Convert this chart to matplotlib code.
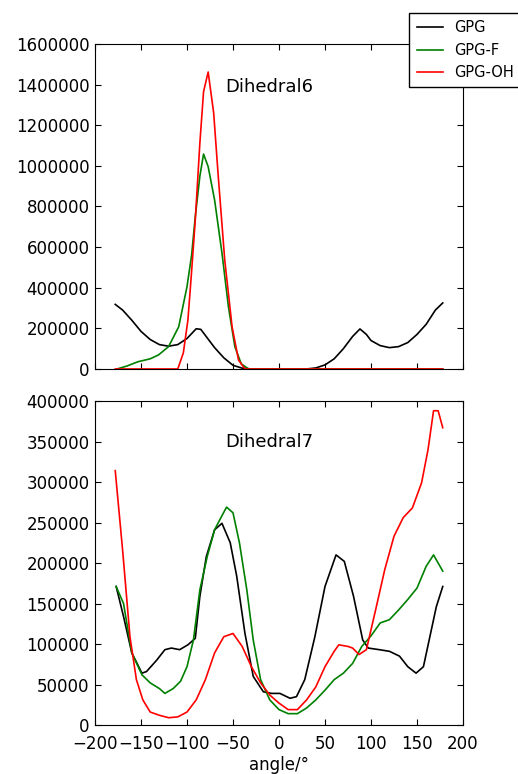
import matplotlib
matplotlib.use('Agg')
import matplotlib.pyplot as plt

# -----------------------------
# Dihedral6 data
# -----------------------------
d6_gpg_x = [-178, -170, -160, -150, -140, -130, -120, -110, -100, -90, -85, -80, -70, -60,
            -50, -40, -30, 0, 30, 40, 50, 60, 70, 80, 88, 95, 100, 110, 120, 130, 140,
            150, 160, 170, 178]
d6_gpg_y = [318000, 290000, 240000, 185000, 145000, 120000, 112000, 120000, 150000, 198000,
            195000, 165000, 105000, 55000, 18000, 4000, 0, 0, 0, 5000, 20000, 50000,
            100000, 160000, 197000, 170000, 140000, 115000, 105000, 110000, 130000,
            170000, 220000, 290000, 325000]

d6_f_x = [-176, -165, -153, -140, -131, -120, -109, -100, -95, -91, -86, -82, -77, -70, -62,
          -55, -48, -41, -33, 0, 178]
d6_f_y = [0, 15000, 36000, 50000, 69000, 110000, 208000, 405000, 560000, 750000, 950000,
          1058000, 996000, 832000, 571000, 307000, 110000, 25000, 0, 0, 0]

d6_oh_x = [-178, -110, -104, -99, -95, -91, -86, -82, -77, -71, -66, -59, -51, -44, -37, 0, 178]
d6_oh_y = [0, 0, 79000, 241000, 480000, 733000, 1113000, 1365000, 1462000, 1260000, 947000,
           537000, 208000, 44000, 0, 0, 0]

# -----------------------------
# Dihedral7 data
# -----------------------------
d7_gpg_x = [-177, -169, -160, -149, -144, -133, -124, -117, -108, -99, -91, -86, -79, -70,
            -62, -53, -46, -37, -28, -17, -8, 1, 12, 19, 28, 39, 50, 62, 71, 81, 91, 97,
            109, 120, 131, 140, 149, 157, 164, 171, 178]
d7_gpg_y = [171000, 134000, 89000, 64000, 66000, 80000, 93000, 95000, 93000, 99000, 107000,
            159000, 208000, 241000, 249000, 225000, 184000, 113000, 60000, 41000, 39000,
            39000, 33000, 35000, 56000, 109000, 171000, 210000, 202000, 159000, 105000,
            95000, 93000, 91000, 85000, 72000, 64000, 72000, 109000, 146000, 171000]

d7_f_x = [-177, -169, -160, -149, -140, -130, -124, -115, -107, -100, -93, -86, -78, -70,
          -65, -57, -50, -43, -35, -28, -20, -10, 0, 10, 20, 30, 40, 50, 60, 70, 80, 90,
          100, 110, 120, 130, 140, 150, 160, 168, 178]
d7_f_y = [171000, 150000, 89000, 62000, 52000, 45000, 39000, 45000, 54000, 72000, 105000,
          167000, 208000, 241000, 252000, 269000, 262000, 225000, 167000, 105000, 56000,
          31000, 19000, 14000, 14000, 21000, 31000, 43000, 56000, 64000, 76000, 97000,
          110000, 126000, 130000, 142000, 155000, 169000, 196000, 210000, 190000]

d7_oh_x = [-178, -170, -162, -155, -148, -140, -130, -120, -110, -100, -90, -80, -70, -60,
           -50, -40, -30, -20, -10, 0, 10, 20, 30, 40, 50, 60, 65, 75, 80, 87, 95, 105,
           115, 125, 135, 145, 155, 162, 168, 173, 178]
d7_oh_y = [314000, 216000, 109000, 56000, 31000, 16000, 12000, 9000, 10000, 16000, 31000,
           56000, 89000, 109000, 113000, 97000, 72000, 52000, 37000, 27000, 19000, 19000,
           31000, 47000, 72000, 91000, 99000, 97000, 95000, 87000, 93000, 142000, 192000,
           233000, 256000, 268000, 299000, 340000, 388000, 388000, 367000]

labels = ['GPG', 'GPG-F', 'GPG-OH']
colors = ['k', 'g', 'r']

plt.rcParams['font.family'] = 'DejaVu Sans'
plt.rcParams['xtick.direction'] = 'in'
plt.rcParams['ytick.direction'] = 'in'
plt.rcParams['xtick.top'] = True
plt.rcParams['ytick.right'] = True

fig = plt.figure(figsize=(5.18, 7.74), dpi=100)
ax1 = fig.add_axes([0.1834, 0.5233, 0.7104, 0.4199])
ax2 = fig.add_axes([0.1834, 0.0633, 0.7104, 0.4186])

# top panel
ax1.plot(d6_gpg_x, d6_gpg_y, color=colors[0], lw=1.2, label=labels[0])
ax1.plot(d6_f_x, d6_f_y, color=colors[1], lw=1.2, label=labels[1])
ax1.plot(d6_oh_x, d6_oh_y, color=colors[2], lw=1.2, label=labels[2])
ax1.set_xlim(-200, 200)
ax1.set_ylim(0, 1600000)
ax1.set_xticks(range(-200, 201, 50))
ax1.set_xticklabels([])
ax1.set_yticks(range(0, 1600001, 200000))
ax1.set_yticklabels([str(v) for v in range(0, 1600001, 200000)])
ax1.text(0.353, 0.868, 'Dihedral6', transform=ax1.transAxes, fontsize=13, va='center')

# bottom panel
ax2.plot(d7_gpg_x, d7_gpg_y, color=colors[0], lw=1.2)
ax2.plot(d7_f_x, d7_f_y, color=colors[1], lw=1.2)
ax2.plot(d7_oh_x, d7_oh_y, color=colors[2], lw=1.2)
ax2.set_xlim(-200, 200)
ax2.set_ylim(0, 400000)
ax2.set_xticks(range(-200, 201, 50))
ax2.set_xticklabels(['\u2212' + str(-v) if v < 0 else str(v) for v in range(-200, 201, 50)])
ax2.set_yticks(range(0, 400001, 50000))
ax2.set_yticklabels([str(v) for v in range(0, 400001, 50000)])
ax2.set_xlabel('angle/°', fontsize=12, labelpad=2)
ax2.text(0.353, 0.873, 'Dihedral7', transform=ax2.transAxes, fontsize=13, va='center')

for ax in (ax1, ax2):
    ax.tick_params(labelsize=12, length=4, pad=4)
ax2.tick_params(axis='x', pad=7)

fig.legend(loc='upper left', bbox_to_anchor=(0.790, 0.983), fontsize=10.5,
           fancybox=False, edgecolor='k', framealpha=1, handlelength=1.8,
           borderpad=0.5, labelspacing=0.5, borderaxespad=0)

plt.savefig('out.png', dpi=100)
